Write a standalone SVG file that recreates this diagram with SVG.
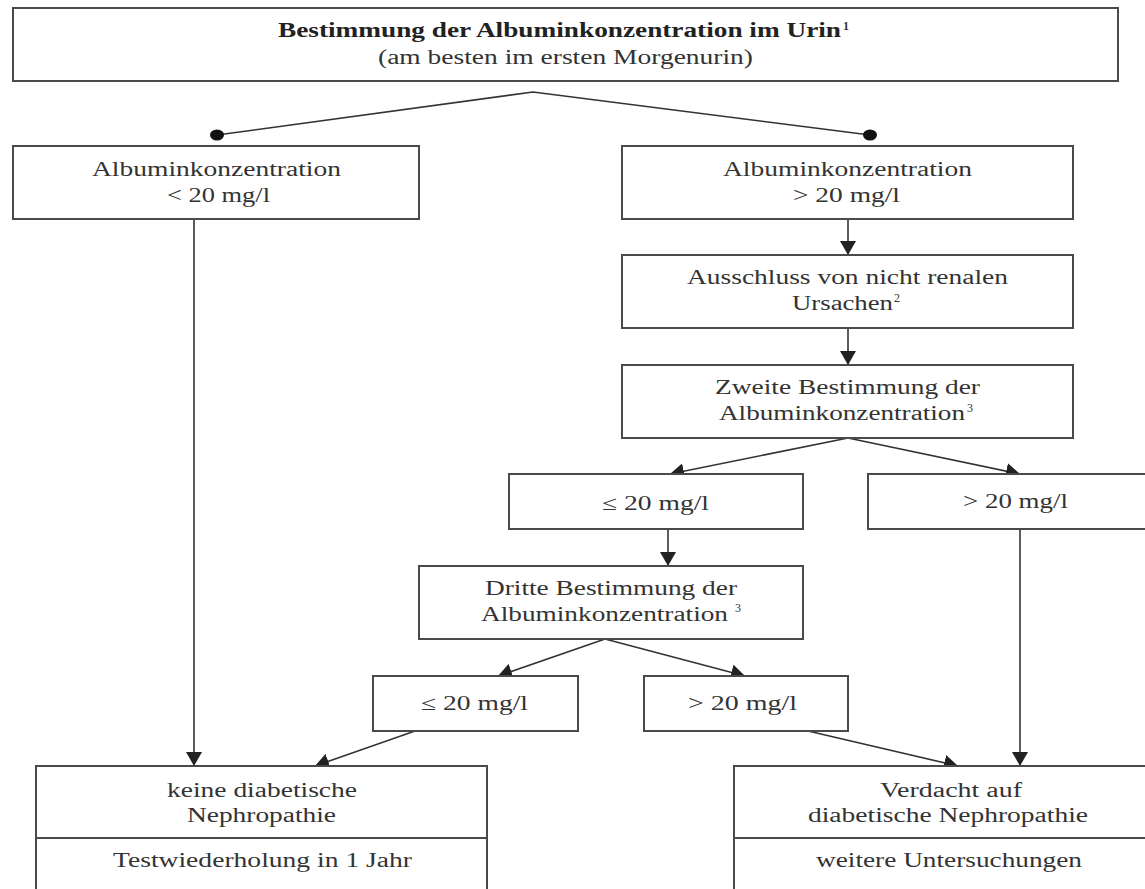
<svg xmlns="http://www.w3.org/2000/svg" width="1145" height="889" viewBox="0 0 1145 889">
<style>
.box{fill:#fff;stroke:#4a4a4a;stroke-width:2}
.t{font-family:"Liberation Serif","Times New Roman",serif;font-size:20px;fill:#333}
.b{font-weight:bold;fill:#222}
.sup{font-family:"Liberation Serif","Times New Roman",serif;font-size:12px;fill:#333}
.c{fill:none;stroke:#333;stroke-width:1.6}
.ca{fill:none;stroke:#333;stroke-width:1.6;marker-end:url(#ah)}
</style>
<defs>
<marker id="ah" viewBox="0 0 14 16" refX="14" refY="8" markerWidth="14" markerHeight="16" markerUnits="userSpaceOnUse" orient="auto">
<path d="M0,0 L14,8 L0,16 z" fill="#222"/>
</marker>
</defs>
<rect width="1145" height="889" fill="#fff"/>

<g id="connectors">
<polyline class="c" points="217,135 533,92 870,135"/>
<ellipse cx="217" cy="135" rx="7" ry="5.5" fill="#111"/>
<ellipse cx="870" cy="135" rx="7" ry="5.5" fill="#111"/>
<line class="ca" x1="194" y1="219" x2="194" y2="766"/>
<line class="ca" x1="848" y1="219" x2="848" y2="255"/>
<line class="ca" x1="848" y1="328" x2="848" y2="365"/>
<line class="ca" x1="848" y1="438" x2="670" y2="474"/>
<line class="ca" x1="848" y1="438" x2="1020" y2="474"/>
<line class="ca" x1="668" y1="529" x2="668" y2="566"/>
<line class="ca" x1="605" y1="639" x2="498" y2="676"/>
<line class="ca" x1="605" y1="639" x2="745" y2="676"/>
<line class="ca" x1="415" y1="731" x2="315" y2="766"/>
<line class="ca" x1="808" y1="731" x2="958" y2="766"/>
<line class="ca" x1="1020" y1="529" x2="1020" y2="766"/>
</g>

<g id="n-start">
<rect class="box" x="13" y="8" width="1105" height="73"/>
<text class="t b" x="278" y="37" textLength="563" lengthAdjust="spacingAndGlyphs">Bestimmung der Albuminkonzentration im Urin</text>
<text class="sup b" x="843" y="30">1</text>
<text class="t" x="378" y="64" textLength="375" lengthAdjust="spacingAndGlyphs">(am besten im ersten Morgenurin)</text>
</g>

<g id="n-low">
<rect class="box" x="13" y="146" width="406" height="73"/>
<text class="t" x="92" y="176" textLength="249" lengthAdjust="spacingAndGlyphs">Albuminkonzentration</text>
<text class="t" x="167" y="202" textLength="103" lengthAdjust="spacingAndGlyphs">&lt; 20 mg/l</text>
</g>

<g id="n-high">
<rect class="box" x="622" y="146" width="451" height="73"/>
<text class="t" x="723" y="176" textLength="249" lengthAdjust="spacingAndGlyphs">Albuminkonzentration</text>
<text class="t" x="793" y="202" textLength="107" lengthAdjust="spacingAndGlyphs">&gt; 20 mg/l</text>
</g>

<g id="n-ausschluss">
<rect class="box" x="622" y="255" width="451" height="73"/>
<text class="t" x="687" y="284" textLength="321" lengthAdjust="spacingAndGlyphs">Ausschluss von nicht renalen</text>
<text class="t" x="792" y="310" textLength="101" lengthAdjust="spacingAndGlyphs">Ursachen</text>
<text class="sup" x="894" y="302">2</text>
</g>

<g id="n-zweite">
<rect class="box" x="622" y="365" width="451" height="73"/>
<text class="t" x="715" y="394" textLength="265" lengthAdjust="spacingAndGlyphs">Zweite Bestimmung der</text>
<text class="t" x="719" y="420" textLength="246" lengthAdjust="spacingAndGlyphs">Albuminkonzentration</text>
<text class="sup" x="967" y="412">3</text>
</g>

<g id="n-mid-le">
<rect class="box" x="509" y="474" width="294" height="55"/>
<text class="t" x="602" y="510" textLength="107" lengthAdjust="spacingAndGlyphs">≤ 20 mg/l</text>
</g>

<g id="n-mid-gt">
<rect class="box" x="868" y="474" width="300" height="55"/>
<text class="t" x="963" y="508" textLength="105" lengthAdjust="spacingAndGlyphs">&gt; 20 mg/l</text>
</g>

<g id="n-dritte">
<rect class="box" x="419" y="566" width="384" height="73"/>
<text class="t" x="485" y="595" textLength="252" lengthAdjust="spacingAndGlyphs">Dritte Bestimmung der</text>
<text class="t" x="481" y="621" textLength="247" lengthAdjust="spacingAndGlyphs">Albuminkonzentration</text>
<text class="sup" x="735" y="612">3</text>
</g>

<g id="n-low-le">
<rect class="box" x="373" y="676" width="205" height="55"/>
<text class="t" x="421" y="710" textLength="107" lengthAdjust="spacingAndGlyphs">≤ 20 mg/l</text>
</g>

<g id="n-low-gt">
<rect class="box" x="644" y="676" width="204" height="55"/>
<text class="t" x="688" y="710" textLength="109" lengthAdjust="spacingAndGlyphs">&gt; 20 mg/l</text>
</g>

<g id="n-keine">
<rect class="box" x="36" y="766" width="451" height="140"/>
<line x1="36" y1="838" x2="487" y2="838" stroke="#4a4a4a" stroke-width="2"/>
<text class="t" x="167" y="797" textLength="190" lengthAdjust="spacingAndGlyphs">keine diabetische</text>
<text class="t" x="187" y="822" textLength="149" lengthAdjust="spacingAndGlyphs">Nephropathie</text>
<text class="t" x="113" y="867" textLength="299" lengthAdjust="spacingAndGlyphs">Testwiederholung in 1 Jahr</text>
</g>

<g id="n-verdacht">
<rect class="box" x="734" y="766" width="440" height="140"/>
<line x1="734" y1="838" x2="1174" y2="838" stroke="#4a4a4a" stroke-width="2"/>
<text class="t" x="880" y="797" textLength="142" lengthAdjust="spacingAndGlyphs">Verdacht auf</text>
<text class="t" x="808" y="822" textLength="280" lengthAdjust="spacingAndGlyphs">diabetische Nephropathie</text>
<text class="t" x="816" y="867" textLength="266" lengthAdjust="spacingAndGlyphs">weitere Untersuchungen</text>
</g>
</svg>
